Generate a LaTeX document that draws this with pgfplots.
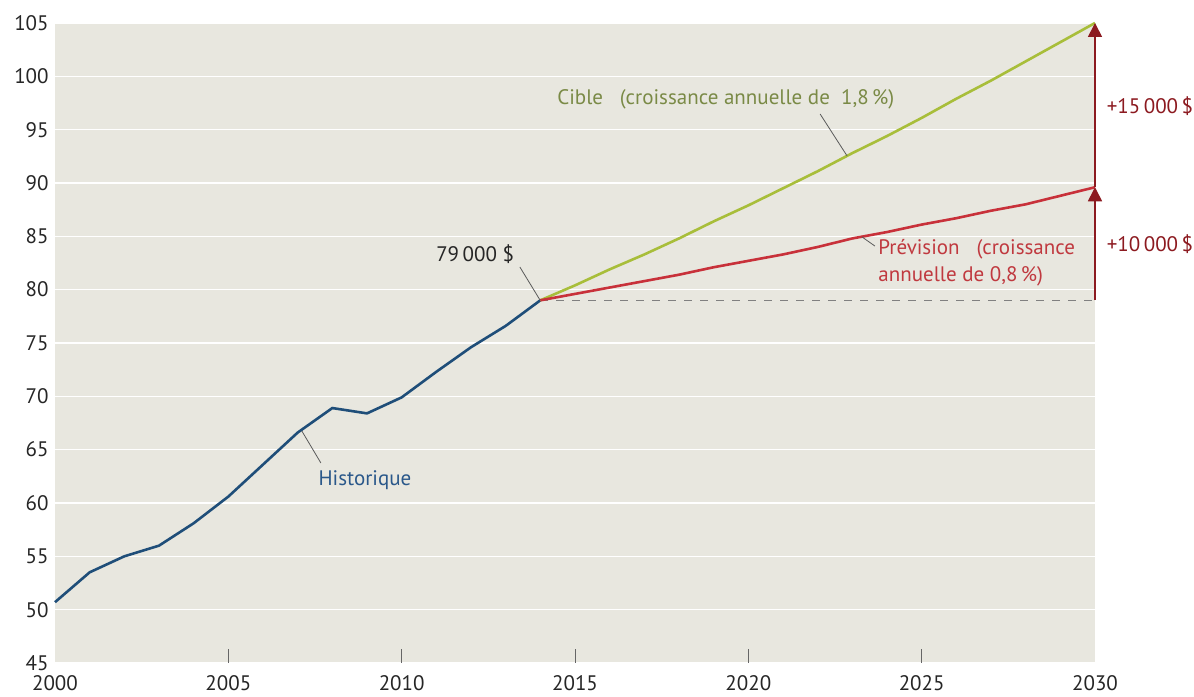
\documentclass[border=0pt]{standalone}
\usepackage{pgfplots}
\pgfplotsset{compat=1.18}
\usepackage{fontspec}
\setmainfont{PT Sans}
\usetikzlibrary{arrows.meta,calc}

\definecolor{bgcol}{RGB}{232,231,223}
\definecolor{histblue}{RGB}{31,78,121}
\definecolor{histtext}{RGB}{42,88,138}
\definecolor{cibleline}{RGB}{168,190,58}
\definecolor{cibletext}{RGB}{122,138,70}
\definecolor{prevline}{RGB}{200,49,58}
\definecolor{prevtext}{RGB}{192,57,63}
\definecolor{arrowred}{RGB}{140,26,32}
\definecolor{leader}{RGB}{90,90,90}

\begin{document}
\begin{tikzpicture}
\fontsize{10.5bp}{13.5bp}\selectfont
\begin{axis}[
    scale only axis,
    width=520bp, height=320bp,
    xmin=2000, xmax=2030, ymin=45, ymax=105,
    clip=false,
    axis background/.style={fill=bgcol},
    axis line style={draw=none},
    ytick={45,50,...,105},
    xtick={2005,2010,...,2025},
    extra x ticks={2000,2030},
    extra x tick style={major tick length=0pt},
    ymajorgrids,
    grid style={white, line width=0.8bp},
    ytick style={draw=none},
    xtick style={draw=gray!80!black, line width=0.4bp},
    tick align=inside,
    xtick pos=bottom,
    major tick length=7bp,
    /pgf/number format/assume math mode=true,
    /pgf/number format/1000 sep={},
    ticklabel style={font=\fontsize{10.5bp}{13bp}\selectfont, text=black!85},
    yticklabel style={xshift=0.5bp},
    xticklabel style={yshift=-2.5bp},
]
% historique
\addplot[histblue, line width=1.3bp] coordinates {
    (2000,50.7) (2001,53.5) (2002,55.0) (2003,56.0) (2004,58.1)
    (2005,60.6) (2006,63.6) (2007,66.6) (2008,68.9) (2009,68.4)
    (2010,69.9) (2011,72.3) (2012,74.6) (2013,76.6) (2014,79.0)
};
% ligne de base
\addplot[gray, line width=0.5bp, dash pattern=on 4bp off 4bp] coordinates {
    (2014,79.0) (2030,79.0)
};
% cible
\addplot[cibleline, line width=1.3bp] coordinates {
    (2014,79.0) (2015,80.4) (2016,81.9) (2017,83.3) (2018,84.8)
    (2019,86.4) (2020,87.9) (2021,89.5) (2022,91.1) (2023,92.8)
    (2024,94.4) (2025,96.1) (2026,97.9) (2027,99.6) (2028,101.4)
    (2029,103.2) (2030,105.0)
};
% prevision
\addplot[prevline, line width=1.3bp] coordinates {
    (2014,79.0) (2015,79.6) (2016,80.2) (2017,80.8) (2018,81.4)
    (2019,82.1) (2020,82.7) (2021,83.3) (2022,84.0) (2023,84.8)
    (2024,85.4) (2025,86.1) (2026,86.7) (2027,87.4) (2028,88.0)
    (2029,88.8) (2030,89.6)
};
% fleches
\addplot[arrowred, line width=0.8bp, -{Triangle[width=7bp,length=7bp]}] coordinates {
    (2030,79.0) (2030,89.6)
};
\addplot[arrowred, line width=0.8bp, -{Triangle[width=7bp,length=7bp]}] coordinates {
    (2030,89.6) (2030,105.0)
};

% etiquettes
\draw[leader, line width=0.4bp] (axis cs:2022.07,96.47) -- (axis cs:2022.85,92.53);
\node[anchor=west, text=cibletext, inner sep=0pt] at (axis cs:2014.48,97.87)
    {Cible\ \ \ (croissance annuelle de\ \ 1,8\,\%)};

\draw[leader, line width=0.4bp] (axis cs:2023.28,84.94) -- (axis cs:2023.65,84.09);
\node[anchor=west, text=prevtext, align=left, inner sep=0pt] at (axis cs:2023.74,82.55)
    {Prévision\ \ \ (croissance\\annuelle de 0,8\,\%)};

\draw[leader, line width=0.4bp] (axis cs:2013.41,82.12) -- (axis cs:2013.99,79.03);
\node[text=black!85, inner sep=0pt] at (axis cs:2012.12,83.34) {79\,000 \$};

\draw[leader, line width=0.4bp] (axis cs:2007.12,66.75) -- (axis cs:2007.67,63.75);
\node[text=histtext, inner sep=0pt] at (axis cs:2008.94,62.16) {Historique};

\node[anchor=west, text=arrowred, inner sep=0pt] at (axis cs:2030.33,97.2) {+15\,000\,\$};
\node[anchor=west, text=arrowred, inner sep=0pt] at (axis cs:2030.33,84.28) {+10\,000\,\$};

\coordinate (sw) at (rel axis cs:0,0);
\coordinate (ne) at (rel axis cs:1,1);
\end{axis}
\pgfresetboundingbox
\path[use as bounding box] ($(sw)+(-27.5bp,-17bp)$) rectangle ($(ne)+(49.5bp,11.5bp)$);
\end{tikzpicture}
\end{document}
